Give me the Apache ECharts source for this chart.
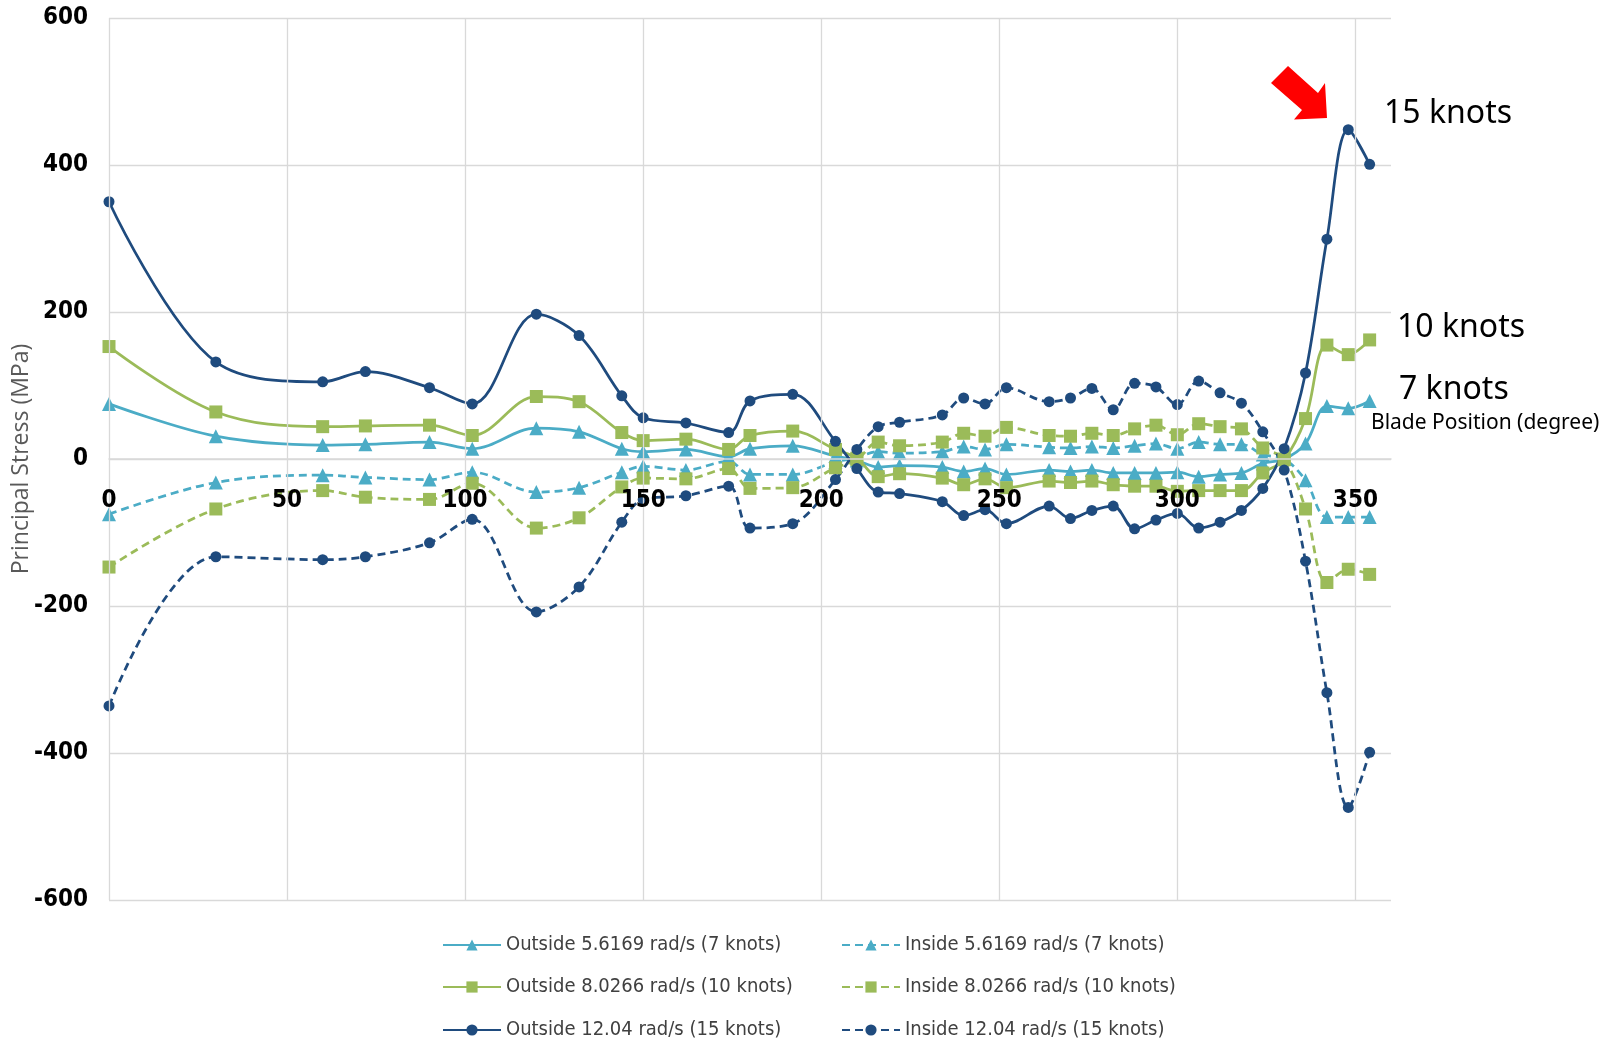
<!DOCTYPE html>
<html>
<head>
<meta charset="utf-8">
<script src="https://cdn.jsdelivr.net/npm/echarts@6/dist/echarts.min.js"></script>
<style>
html,body{margin:0;padding:0;background:#fff;}
#chart{width:1617px;height:1038px;}
</style>
</head>
<body>
<div id="chart"></div>
<script>
// Blade position (degree)
var positions = [0, 30, 60, 72, 90, 102, 120, 132, 144, 150, 162, 174, 180, 192, 204, 210, 216, 222, 234, 240, 246, 252, 264, 270, 276, 282, 288, 294, 300, 306, 312, 318, 324, 330, 336, 342, 348, 354];

var outside7 = [75, 31, 19, 20, 23, 14, 42, 37, 14, 10, 13, 3, 14, 18, 4, -2, -11, -9, -11, -17, -13, -21, -15, -17, -15, -19, -19, -19, -18, -24, -21, -19, -6, 0, 21, 72, 69, 79];
var inside7 = [-75, -32, -22, -25, -28, -18, -45, -39, -18, -10, -15, -3, -21, -21, -4, 2, 10, 8, 10, 17, 13, 20, 16, 15, 17, 15, 18, 21, 14, 23, 20, 20, 6, 0, -29, -79, -79, -79];
var outside10 = [153, 64, 44, 45, 46, 32, 85, 78, 36, 25, 27, 13, 32, 38, 13, 1, -24, -20, -26, -35, -27, -39, -30, -32, -30, -35, -37, -37, -44, -43, -43, -43, -19, -1, 55, 155, 142, 162];
var inside10 = [-147, -68, -43, -52, -55, -33, -94, -80, -38, -26, -27, -13, -40, -39, -12, -1, 23, 18, 23, 35, 31, 43, 32, 31, 35, 32, 41, 46, 33, 48, 44, 41, 15, 0, -68, -168, -150, -157];
var outside15 = [350, 132, 105, 119, 97, 75, 197, 168, 86, 56, 49, 36, 79, 88, 24, -13, -45, -47, -58, -77, -69, -88, -64, -81, -70, -64, -95, -83, -74, -94, -86, -70, -40, 14, 117, 299, 448, 401];
var inside15 = [-336, -133, -137, -133, -114, -82, -208, -174, -86, -55, -50, -37, -94, -88, -28, 13, 44, 50, 60, 83, 75, 97, 78, 83, 96, 67, 103, 98, 74, 106, 90, 76, 37, -15, -139, -318, -474, -399];

var seriesNames = [
  'Outside 5.6169 rad/s (7 knots)', 'Inside 5.6169 rad/s (7 knots)',
  'Outside 8.0266 rad/s (10 knots)', 'Inside 8.0266 rad/s (10 knots)',
  'Outside 12.04 rad/s (15 knots)', 'Inside 12.04 rad/s (15 knots)'
];
var yTicks = [-600, -400, -200, 0, 200, 400, 600];
var xTicks = [0, 50, 100, 150, 200, 250, 300, 350];

var annotations = ['15 knots', '10 knots', '7 knots', 'Blade Position (degree)'];

function pairs(vals) {
  return positions.map(function (p, i) { return [p, vals[i]]; });
}

var C7 = '#4BACC6', C10 = '#9BBB59', C15 = '#1F4B7E';
var narrow = "'Liberation Sans Narrow', 'DejaVu Sans Condensed', 'Roboto Condensed', sans-serif";

function mk(name, vals, color, symbol, size, dashed) {
  return {
    name: name,
    type: 'line',
    data: pairs(vals),
    smooth: 0.35,
    symbol: symbol,
    symbolSize: size,
    showAllSymbol: true,
    lineStyle: { color: color, width: 2.75, type: dashed ? [8, 5] : 'solid' },
    itemStyle: { color: color },
    emphasis: { disabled: true },
    z: 3
  };
}

function leg(name, left, top) {
  return {
    orient: 'horizontal', left: left, top: top,
    data: [name],
    itemWidth: 58, itemHeight: 14,
    textStyle: { color: '#404040', fontSize: 20, fontFamily: narrow, lineHeight: 22 },
    selectedMode: false
  };
}

var gridTop = 18, gridBottom = 138, H = 1038;
var halfH = (H - gridTop - gridBottom) / 2;

var chart = echarts.init(document.getElementById('chart'), null, { renderer: 'canvas' });
var option = {
  animation: false,
  backgroundColor: '#ffffff',
  grid: { left: 109, right: 226, top: gridTop, bottom: gridBottom, containLabel: false, outerBoundsMode: 'none' },
  xAxis: {
    type: 'value',
    min: 0, max: 360, interval: 50,
    position: 'bottom',
    offset: -halfH,
    axisLine: { show: true, onZero: false, lineStyle: { color: '#d9d9d9', width: 1.5 } },
    axisTick: { show: false },
    axisLabel: {
      show: true, margin: 30, color: '#000', fontWeight: 'bold', fontSize: 24, fontFamily: narrow,
      showMaxLabel: false,
      formatter: function (v) { return xTicks.indexOf(v) >= 0 ? String(v) : ''; }
    },
    splitLine: { show: true, showMaxLine: false, lineStyle: { color: '#d9d9d9', width: 1.3 } },
    z: 5
  },
  yAxis: {
    type: 'value',
    min: -600, max: 600, interval: 200,
    name: 'Principal Stress (MPa)',
    nameLocation: 'middle',
    nameGap: 76,
    nameMoveOverlap: false,
    nameTextStyle: { color: '#595959', fontSize: 23, fontFamily: "'Open Sans', 'Noto Sans', sans-serif" },
    axisLine: { show: false, onZero: false },
    axisTick: { show: false },
    axisLabel: {
      margin: 21, color: '#000', fontWeight: 'bold', fontSize: 24, fontFamily: narrow,
      formatter: function (v) { return yTicks.indexOf(v) >= 0 ? String(v) : ''; }
    },
    splitLine: { show: true, lineStyle: { color: '#d9d9d9', width: 1.3 } }
  },
  legend: [
    leg(seriesNames[0], 437, 929),
    leg(seriesNames[1], 836, 929),
    leg(seriesNames[2], 437, 971),
    leg(seriesNames[3], 836, 971),
    leg(seriesNames[4], 437, 1014),
    leg(seriesNames[5], 836, 1014)
  ],
  graphic: [
    { type: 'text', left: 1384, top: 98, style: { text: annotations[0], fill: '#000', font: "32px 'Noto Sans', 'Open Sans', sans-serif" } },
    { type: 'text', left: 1397, top: 312, style: { text: annotations[1], fill: '#000', font: "32px 'Noto Sans', 'Open Sans', sans-serif" } },
    { type: 'text', left: 1399, top: 374, style: { text: annotations[2], fill: '#000', font: "32px 'Noto Sans', 'Open Sans', sans-serif" } },
    { type: 'text', left: 1371, top: 413, style: { text: annotations[3], fill: '#000', font: "21px 'Noto Sans', 'Open Sans', sans-serif" } },
    {
      type: 'polygon',
      shape: { points: [[1288, 66], [1318, 93], [1325, 83], [1327, 118], [1294, 119.5], [1302, 110], [1271, 83]] },
      style: { fill: '#FF0000' }
    }
  ],
  series: [
    mk(seriesNames[0], outside7, C7, 'triangle', 14, false),
    mk(seriesNames[1], inside7, C7, 'triangle', 14, true),
    mk(seriesNames[2], outside10, C10, 'rect', 13, false),
    mk(seriesNames[3], inside10, C10, 'rect', 13, true),
    mk(seriesNames[4], outside15, C15, 'circle', 11, false),
    mk(seriesNames[5], inside15, C15, 'circle', 11, true)
  ]
};
chart.setOption(option);
</script>
</body>
</html>
